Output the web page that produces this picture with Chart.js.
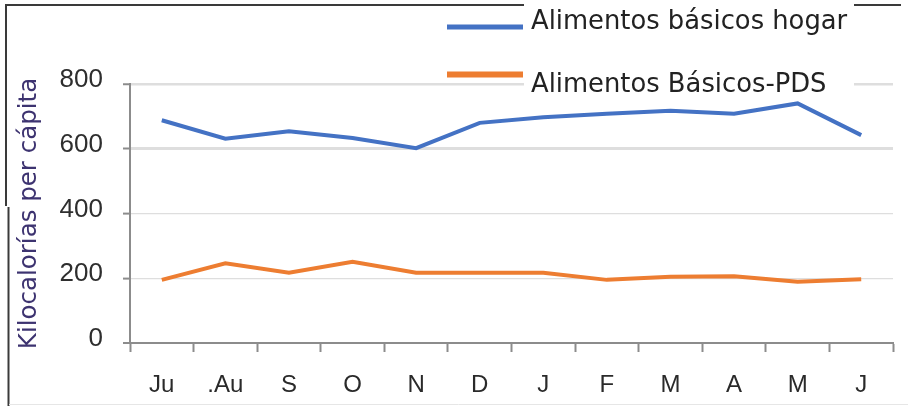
<!DOCTYPE html>
<html>
<head>
<meta charset="utf-8">
<script src="https://cdn.jsdelivr.net/npm/chart.js@4/dist/chart.umd.min.js"></script>
<style>
  html, body { margin: 0; padding: 0; background: #ffffff; }
  #wrap { width: 908px; height: 406px; }
</style>
</head>
<body>
<div id="wrap"><canvas id="chart" width="908" height="406"></canvas></div>
<script>
// Months (July to June)
const months = ["Ju", ".Au", "S", "O", "N", "D", "J", "F", "M", "A", "M", "J"];

// Kilocalories per capita
const hogarLabel = "Alimentos básicos hogar";
const hogar = [688, 631, 654, 633, 602, 680, 697, 708, 717, 708, 740, 642];

const pdsLabel = "Alimentos Básicos-PDS";
const pds = [195, 246, 217, 251, 217, 217, 217, 195, 205, 206, 189, 197];

// Y axis
const yTitle = "Kilocalorías per cápita";
const yMin = 0, yMax = 800, yStep = 200;

const BLUE = "#4472c4";
const ORANGE = "#ed7d31";
const AXIS = "#8c8c8c";

// Frame around the figure plus the legend drawn in the top right corner
const framePlugin = {
  id: "frame",
  beforeDraw(chart) {
    const ctx = chart.ctx;
    ctx.save();
    ctx.fillStyle = "#ffffff";
    ctx.fillRect(0, 0, chart.width, chart.height);
    ctx.restore();
  },
  afterDraw(chart) {
    const ctx = chart.ctx;
    ctx.save();
    // outer frame
    ctx.strokeStyle = "#3a3a3a";
    ctx.lineWidth = 2;
    ctx.beginPath();
    ctx.moveTo(6, 206); ctx.lineTo(6, 5); ctx.lineTo(901, 5);
    ctx.stroke();
    ctx.beginPath();
    ctx.moveTo(8.5, 207); ctx.lineTo(8.5, 406);
    ctx.stroke();
    ctx.strokeStyle = "#e6e6e6";
    ctx.lineWidth = 1;
    ctx.beginPath();
    ctx.moveTo(9, 404.5); ctx.lineTo(908, 404.5);
    ctx.stroke();

    // legend
    ctx.fillStyle = "#ffffff";
    ctx.fillRect(524, 0, 330, 97);
    const ds = chart.data.datasets;
    const rows = [
      { line: 27, text: 22, w: 5 },
      { line: 74.5, text: 85, w: 6 }
    ];
    ds.forEach((d, i) => {
      const r = rows[i];
      ctx.strokeStyle = d.borderColor;
      ctx.lineWidth = r.w;
      ctx.lineCap = "butt";
      ctx.beginPath();
      ctx.moveTo(447, r.line); ctx.lineTo(523, r.line);
      ctx.stroke();
      ctx.fillStyle = "#222222";
      ctx.font = "25.8px 'DejaVu Sans'";
      ctx.textAlign = "left";
      ctx.textBaseline = "middle";
      ctx.fillText(d.label, 531, r.text);
    });
    ctx.restore();
  }
};

const gridWidths = { 800: 2.5, 600: 3, 400: 1.2, 200: 1.2, 0: 0 };

new Chart(document.getElementById("chart"), {
  type: "line",
  data: {
    labels: months,
    datasets: [
      { label: hogarLabel, data: hogar, borderColor: BLUE, backgroundColor: BLUE,
        borderWidth: 4, pointRadius: 0, tension: 0 },
      { label: pdsLabel, data: pds, borderColor: ORANGE, backgroundColor: ORANGE,
        borderWidth: 4, pointRadius: 0, tension: 0 }
    ]
  },
  options: {
    responsive: false,
    devicePixelRatio: 1,
    animation: false,
    layout: { padding: { top: 84, right: 15, bottom: 0, left: 0 } },
    plugins: {
      legend: { display: false },
      title: { display: false },
      tooltip: { enabled: false }
    },
    scales: {
      x: {
        offset: true,
        grid: {
          offset: true,
          drawOnChartArea: false,
          tickLength: 9,
          tickColor: AXIS,
          tickWidth: 2
        },
        border: { color: AXIS, width: 2 },
        ticks: {
          color: "#2a2a2a",
          font: { family: "'Liberation Sans'", size: 24 },
          padding: 19,
          maxRotation: 0,
          autoSkip: false
        },
        afterFit(scale) { scale.height = 63; }
      },
      y: {
        min: yMin,
        max: yMax,
        ticks: {
          stepSize: yStep,
          color: "#2e2e2e",
          font: { family: "'Liberation Sans'", size: 26 },
          padding: 20,
          labelOffset: -4
        },
        grid: {
          color: "#dedede",
          lineWidth: (c) => gridWidths[c.tick.value] ?? 1,
          tickLength: 7,
          tickColor: AXIS,
          tickWidth: 2
        },
        border: { color: AXIS, width: 2 },
        title: {
          display: true,
          text: yTitle,
          color: "#3d3370",
          font: { family: "'DejaVu Sans'", size: 24.5 },
          padding: { top: 15, bottom: 0 }
        },
        afterFit(scale) { scale.width = 130; }
      }
    }
  },
  plugins: [framePlugin]
});
</script>
</body>
</html>
